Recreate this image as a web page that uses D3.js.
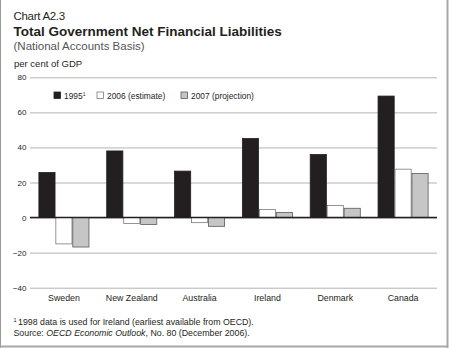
<!DOCTYPE html>
<html>
<head>
<meta charset="utf-8">
<script src="https://cdn.jsdelivr.net/npm/d3@7"></script>
<style>
  body { margin: 0; background: #fff; }
  svg { display: block; font-family: "Liberation Sans", Arial, sans-serif; }
</style>
</head>
<body>
<svg width="450" height="348"></svg>
<script>
var countries = ["Sweden", "New Zealand", "Australia", "Ireland", "Denmark", "Canada"];
var series = ["1995", "2006 (estimate)", "2007 (projection)"];
var v1995 = [25.7, 38, 26.5, 45.1, 36, 69.3];
var v2006 = [-15, -3.4, -2.9, 4.6, 6.9, 27.6];
var v2007 = [-16.8, -4, -5, 2.9, 5.3, 25.1];
var yTicks = [-40, -20, 0, 20, 40, 60, 80];

var fills = ["#231f20", "#ffffff", "#c6c6c6"];
var strokes = ["#231f20", "#7a7a7a", "#5a5a5a"];

var svg = d3.select("svg");

var data = countries.map(function(c, i) {
  return {country: c, values: [v1995[i], v2006[i], v2007[i]]};
});

var x0 = d3.scaleBand()
    .domain(countries)
    .range([30, 437])
    .paddingInner(0.25)
    .paddingOuter(0.125);

var x1 = d3.scaleBand()
    .domain([0, 1, 2])
    .range([0, x0.bandwidth()]);

var y = d3.scaleLinear()
    .domain([-40, 80])
    .range([287.7, 77.3]);

// frame
svg.append("line").attr("x1", 0.5).attr("x2", 0.5).attr("y1", 0).attr("y2", 348)
    .attr("stroke", "#9a9a9a").attr("stroke-width", 1);
svg.append("line").attr("x1", 447.5).attr("x2", 447.5).attr("y1", 0).attr("y2", 348)
    .attr("stroke", "#a8a8a8").attr("stroke-width", 2);
svg.append("line").attr("x1", 0).attr("x2", 448).attr("y1", 346.5).attr("y2", 346.5)
    .attr("stroke", "#a8a8a8").attr("stroke-width", 2);

// titles
svg.append("text").attr("x", 13.5).attr("y", 20).attr("font-size", 11.5)
    .attr("letter-spacing", -0.3).attr("fill", "#231f20")
    .text("Chart A2.3");
svg.append("text").attr("x", 13.5).attr("y", 35.5).attr("font-size", 13.5).attr("font-weight", "bold")
    .attr("fill", "#231f20").text("Total Government Net Financial Liabilities");
svg.append("text").attr("x", 13.5).attr("y", 49.5).attr("font-size", 11.5).attr("fill", "#555")
    .text("(National Accounts Basis)");
svg.append("text").attr("x", 14).attr("y", 67).attr("font-size", 9.5).attr("fill", "#231f20")
    .text("per cent of GDP");

// grid + y axis
var yAxis = svg.append("g")
    .attr("transform", "translate(30,0)")
    .call(d3.axisLeft(y).tickValues(yTicks).tickSize(-407).tickFormat(d3.format("d")));
yAxis.select(".domain").remove();
yAxis.selectAll(".tick line").attr("stroke", "#b3b3b3").attr("stroke-width", 1);
yAxis.selectAll(".tick text").attr("x", -3.5).attr("font-size", 8)
    .attr("font-family", "Liberation Sans, Arial, sans-serif").attr("fill", "#231f20");

// bars
var groups = svg.append("g").selectAll("g")
    .data(data)
    .enter().append("g")
    .attr("transform", function(d) { return "translate(" + x0(d.country) + ",0)"; });

groups.selectAll("rect")
    .data(function(d) { return d.values.map(function(v, k) { return {k: k, v: v}; }); })
    .enter().append("rect")
    .attr("x", function(d) { return x1(d.k) + 0.4; })
    .attr("width", x1.bandwidth() - 0.8)
    .attr("y", function(d) { return y(Math.max(0, d.v)); })
    .attr("height", function(d) { return Math.abs(y(d.v) - y(0)); })
    .attr("fill", function(d) { return fills[d.k]; })
    .attr("stroke", function(d) { return strokes[d.k]; })
    .attr("stroke-width", 0.8);

// zero line
svg.append("line")
    .attr("x1", 30).attr("x2", 437)
    .attr("y1", y(0)).attr("y2", y(0))
    .attr("stroke", "#231f20").attr("stroke-width", 1.5);

// x axis labels
var xAxis = svg.append("g")
    .attr("transform", "translate(0,289)")
    .call(d3.axisBottom(x0).tickSize(0).tickPadding(6));
xAxis.select(".domain").remove();
xAxis.selectAll(".tick text").attr("font-size", 8.8)
    .attr("font-family", "Liberation Sans, Arial, sans-serif").attr("fill", "#231f20");

// legend
var legendX = [54, 97, 181];
var legend = svg.append("g").selectAll("g")
    .data(series)
    .enter().append("g")
    .attr("transform", function(d, i) { return "translate(" + legendX[i] + ",92)"; });
legend.append("rect")
    .attr("width", 6.5).attr("height", 6.5)
    .attr("fill", function(d, i) { return fills[i]; })
    .attr("stroke", function(d, i) { return strokes[i]; })
    .attr("stroke-width", 0.8);
var lt = legend.append("text")
    .attr("x", 10).attr("y", 6.5)
    .attr("font-size", 8.4).attr("fill", "#231f20")
    .text(function(d) { return d; });
lt.filter(function(d, i) { return i === 0; })
    .append("tspan").attr("font-size", 5).attr("dy", -3).text("1");

// footnotes
var fn = svg.append("text").attr("x", 13.5).attr("y", 325).attr("font-size", 8.8).attr("fill", "#231f20");
fn.append("tspan").attr("font-size", 5.5).attr("dy", -3.5).text("1");
fn.append("tspan").attr("dx", 1.5).attr("dy", 3.5).text("1998 data is used for Ireland (earliest available from OECD).");
var src = svg.append("text").attr("x", 13.5).attr("y", 336).attr("font-size", 8.8).attr("fill", "#231f20");
src.append("tspan").text("Source: ");
src.append("tspan").attr("font-style", "italic").text("OECD Economic Outlook");
src.append("tspan").text(", No. 80 (December 2006).");
</script>
</body>
</html>
